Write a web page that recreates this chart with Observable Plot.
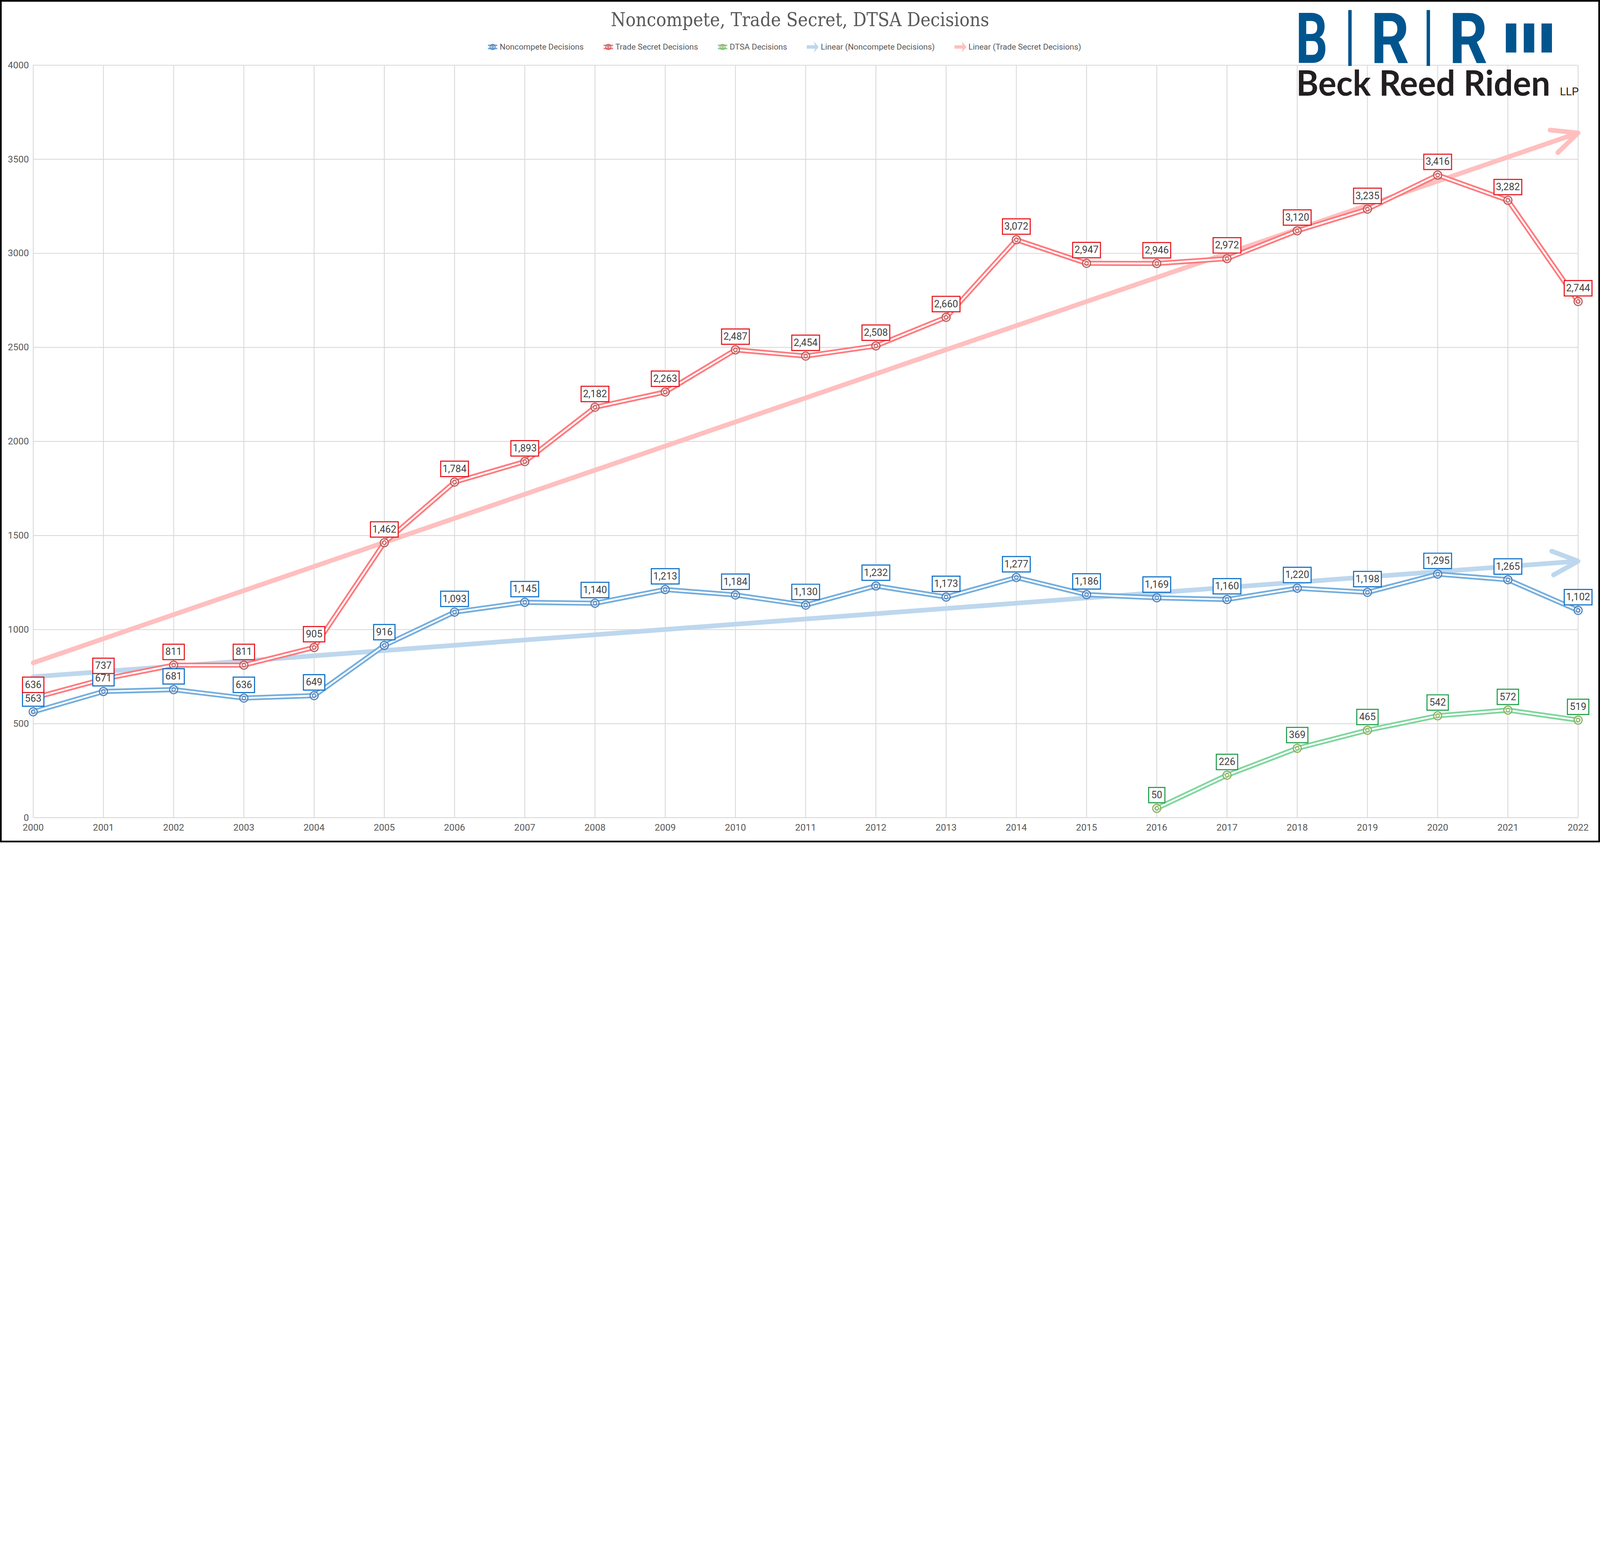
<!DOCTYPE html>
<html><head><meta charset="utf-8">
<script src="https://cdn.jsdelivr.net/npm/d3@7"></script>
<script src="https://cdn.jsdelivr.net/npm/@observablehq/plot@0.6"></script>
<style>
html,body{margin:0;padding:0;background:#fff;overflow:hidden;}
#wrap{position:relative;width:7493px;height:3946px;overflow:hidden;transform-origin:0 0;}
#frame{position:absolute;left:0;top:0;width:7477px;height:3930px;border:8px solid #000;box-sizing:content-box;pointer-events:none;}
#title{position:absolute;left:0;width:7493px;top:40px;text-align:center;font-family:"DejaVu Serif Condensed","Liberation Serif",serif;font-size:88px;color:#595959;}
#legend{position:absolute;top:190px;left:2282px;font-family:"Liberation Sans Narrow","Roboto",sans-serif;font-size:38px;color:#595959;display:flex;}
#legend .it{display:flex;align-items:center;margin-right:90px;}
#legend svg{margin-right:8px;}
#chart{position:absolute;left:0;top:0;}
#chart svg{max-width:none;}
#logo{position:absolute;left:0;top:0;}
</style></head>
<body><div id="wrap"><div id="chart"></div><svg id="logo" width="7493" height="500"></svg>
<div id="title">Noncompete, Trade Secret, DTSA Decisions</div><div id="legend"></div><div id="frame"></div></div>
<script>
const years = d3.range(2000, 2023);
const noncompete = [563,671,681,636,649,916,1093,1145,1140,1213,1184,1130,1232,1173,1277,1186,1169,1160,1220,1198,1295,1265,1102];
const tradeSecret = [636,737,811,811,905,1462,1784,1893,2182,2263,2487,2454,2508,2660,3072,2947,2946,2972,3120,3235,3416,3282,2744];
const dtsaYears = [2016,2017,2018,2019,2020,2021,2022];
const dtsa = [50,226,369,465,542,572,519];
const yTicks = [0,500,1000,1500,2000,2500,3000,3500,4000];

const wrap=document.getElementById("wrap");
const sc=Math.min(window.innerWidth/7493, window.innerHeight/3946);
if(sc<0.999) wrap.style.transform=`scale(${sc})`;

const C = {
  nc:{line:"#74aedd", mk:"#4f7fb8", box:"#0b6ec7"},
  ts:{line:"#ff7a7e", mk:"#b85a5a", box:"#e8141c"},
  dt:{line:"#7ed69c", mk:"#8fae5c", box:"#1f9e4a"}
};
const nc = years.map((y,i)=>({x:y,y:noncompete[i]}));
const ts = years.map((y,i)=>({x:y,y:tradeSecret[i]}));
const dt = dtsaYears.map((y,i)=>({x:y,y:dtsa[i]}));
function reg(data){
  const mx=d3.mean(data,d=>d.x), my=d3.mean(data,d=>d.y);
  const b=d3.sum(data,d=>(d.x-mx)*(d.y-my))/d3.sum(data,d=>(d.x-mx)**2);
  const a=my-b*mx;
  return [{x1:2000,y1:a+b*2000,x2:2022,y2:a+b*2022}];
}
const fmt = d3.format(",");
function series(data, c){
  return [
    Plot.line(data,{x:"x",y:"y",stroke:c.line,strokeWidth:24}),
    Plot.line(data,{x:"x",y:"y",stroke:"#fff",strokeWidth:8}),
    Plot.dot(data,{x:"x",y:"y",r:19,fill:"#fff",fillOpacity:0.3,stroke:c.mk,strokeWidth:5}),
    Plot.dot(data,{x:"x",y:"y",r:8,fill:"none",stroke:c.mk,strokeWidth:4}),
  ];
}
const boxSym = w => ({draw(ctx){ctx.rect(-w/2,-36,w,72);}});
function labels(data,c){
  const out=[];
  [2,3,5].forEach(n=>{
    const sub=data.filter(d=>fmt(d.y).length===n);
    if(!sub.length) return;
    const w=n===2?76:n===3?100:130;
    out.push(Plot.dot(sub,{x:"x",y:"y",symbol:boxSym(w),r:10,dy:-62,fill:"#fff",stroke:c.box,strokeWidth:5}));
  });
  out.push(Plot.text(data,{x:"x",y:"y",text:d=>fmt(d.y),dy:-62,fontSize:46,fill:"#404040",
    fontFamily:"Liberation Sans Narrow, Roboto, sans-serif"}));
  return out;
}
const chart = Plot.plot({
  width:7493,height:3946,
  marginLeft:155,marginRight:103,marginTop:305,marginBottom:116,
  style:{fontFamily:"Liberation Sans Narrow, Roboto, sans-serif",fontSize:"44px",color:"#595959",background:"transparent",maxWidth:"none"},
  x:{domain:[2000,2022],ticks:years,tickFormat:d=>String(d),tickSize:0,tickPadding:30,label:null},
  y:{domain:[0,4000],ticks:yTicks,tickFormat:d=>String(d),tickSize:0,tickPadding:20,label:null},
  marks:[
    Plot.ruleY(yTicks,{stroke:"#d9d9d9",strokeWidth:4}),
    Plot.ruleX(years,{stroke:"#d9d9d9",strokeWidth:4}),
    Plot.arrow(reg(nc),{x1:"x1",y1:"y1",x2:"x2",y2:"y2",stroke:"#bdd7ee",strokeWidth:22,headLength:9,headAngle:50,bend:false}),
    Plot.arrow(reg(ts),{x1:"x1",y1:"y1",x2:"x2",y2:"y2",stroke:"#ffbfbf",strokeWidth:22,headLength:9,headAngle:50,bend:false}),
    ...series(nc,C.nc),
    ...series(ts,C.ts),
    ...series(dt,C.dt),
    ...labels(nc,C.nc),
    ...labels(ts,C.ts),
    ...labels(dt,C.dt),
  ]
});
document.getElementById("chart").appendChild(chart);
const leg=[
  ["Noncompete Decisions","mk",C.nc],["Trade Secret Decisions","mk",C.ts],["DTSA Decisions","mk",C.dt],
  ["Linear (Noncompete Decisions)","ar","#bdd7ee"],["Linear (Trade Secret Decisions)","ar","#ffbfbf"]];
const L=document.getElementById("legend");
leg.forEach(([name,kind,c])=>{
  const d=document.createElement("div");d.className="it";
  let s;
  if(kind==="mk") s=`<svg width="50" height="50"><rect x="3" y="14" width="44" height="22" fill="${c.line}"/><rect x="3" y="21" width="44" height="8" fill="#fff"/><circle cx="25" cy="25" r="12" fill="none" stroke="${c.mk}" stroke-width="4"/><circle cx="25" cy="25" r="4" fill="none" stroke="${c.mk}" stroke-width="3"/></svg>`;
  else s=`<svg width="60" height="60"><rect x="2" y="22" width="40" height="16" fill="${c}"/><polygon points="36,4 58,30 36,56 42,30" fill="${c}"/></svg>`;
  d.innerHTML=s+"<span>"+name+"</span>";L.appendChild(d);
});
const lg=d3.select("#logo");
const blue="#00558f";
[["B",6068],["R",6419],["R",6786]].forEach(([ch,x])=>{
  lg.append("text").attr("x",x).attr("y",295).attr("font-family","Liberation Sans Narrow, Roboto, sans-serif")
    .attr("font-weight","bold").attr("font-size",330).attr("fill",blue).attr("textLength",ch==="B"?150:180).attr("lengthAdjust","spacingAndGlyphs").text(ch);
});
[6314,6681].forEach(x=>lg.append("rect").attr("x",x).attr("y",47).attr("width",16).attr("height",262).attr("fill",blue));
[7052,7136,7219].forEach(x=>lg.append("rect").attr("x",x).attr("y",110).attr("width",49).attr("height",136).attr("fill",blue));
lg.append("text").attr("x",6070).attr("y",448).attr("font-family","Lato, Roboto, sans-serif").attr("font-weight","bold")
  .attr("font-size",165).attr("fill","#231f20").attr("textLength",1190).attr("lengthAdjust","spacingAndGlyphs").text("Beck Reed Riden");
lg.append("text").attr("x",7305).attr("y",446).attr("font-family","Liberation Sans Narrow, Roboto, sans-serif")
  .attr("font-size",52).attr("fill","#231f20").text("LLP");
</script></body></html>
